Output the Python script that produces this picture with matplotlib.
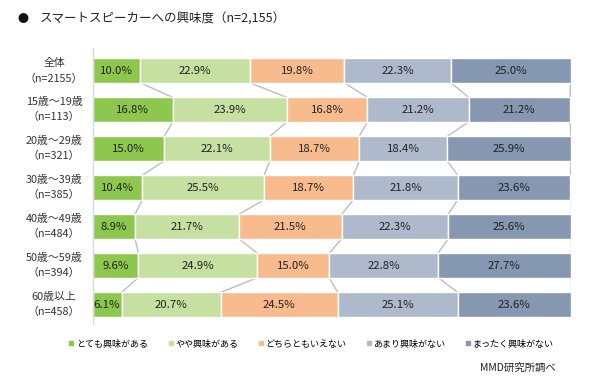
import matplotlib
matplotlib.use("Agg")
import matplotlib.pyplot as plt
from matplotlib.lines import Line2D
import numpy as np

plt.rcParams['font.family'] = ['Noto Sans CJK JP', 'DejaVu Sans']

title = "スマートスピーカーへの興味度（n=2,155）"
categories = ["全体\n（n=2155）", "15歳～19歳\n（n=113）", "20歳～29歳\n（n=321）",
              "30歳～39歳\n（n=385）", "40歳～49歳\n（n=484）", "50歳～59歳\n（n=394）",
              "60歳以上\n（n=458）"]
series_names = ["とても興味がある", "やや興味がある", "どちらともいえない", "あまり興味がない", "まったく興味がない"]
very = [10.0, 16.8, 15.0, 10.4, 8.9, 9.6, 6.1]
somewhat = [22.9, 23.9, 22.1, 25.5, 21.7, 24.9, 20.7]
neutral = [19.8, 16.8, 18.7, 18.7, 21.5, 15.0, 24.5]
notmuch = [22.3, 21.2, 18.4, 21.8, 22.3, 22.8, 25.1]
notatall = [25.0, 21.2, 25.9, 23.6, 25.6, 27.7, 23.6]
source = "MMD研究所調べ"

colors = ["#8DC74E", "#C6E0A2", "#F8BB8D", "#AEB9CB", "#8597B1"]

series = [very, somewhat, neutral, notmuch, notatall]
data = np.array(series)  # 5 x 7

fig = plt.figure(figsize=(5.9, 3.8), dpi=100)
ax = fig.add_axes([92.5/590, (380-324)/380, 478/590, 276/380])

n = len(categories)
y = np.arange(n)
h = 0.625
left = np.zeros(n)
for i, (vals, c) in enumerate(zip(series, colors)):
    vals = np.array(vals)
    ax.barh(y, vals, left=left, height=h, color=c, edgecolor="white", linewidth=1.0, zorder=2)
    for k in range(n):
        ax.text(left[k] + vals[k]/2, y[k], f"{vals[k]:.1f}%", ha="center", va="center",
                fontsize=8.2, color="#222222", zorder=3)
    left = left + vals

# series lines
cum = np.cumsum(data, axis=0)
for i in range(5):
    for k in range(n-1):
        ax.plot([cum[i, k], cum[i, k+1]], [y[k] + h/2, y[k+1] - h/2],
                color="#BDBDBD", linewidth=1.0, zorder=1)

ax.set_xlim(0, 100)
ax.set_ylim(6.5, -0.58)
ax.set_xticks([])
ax.set_yticks([])
for s in ["top", "right", "bottom"]:
    ax.spines[s].set_visible(False)
ax.spines["left"].set_color("#D9D9D9")
ax.spines["left"].set_linewidth(1.0)

for k, lab in enumerate(categories):
    ax.text(-38.5/4.78, y[k], lab, ha="center", va="center", fontsize=7.8,
            color="#333333", linespacing=1.65, transform=ax.transData)

fig.text(17/590, 1 - 19/380, "●", fontsize=8, ha="left", va="center", color="#111111")
fig.text(40/590, 1 - 19/380, title, fontsize=9.0, ha="left", va="center", color="#222222")

handles = [Line2D([0], [0], marker="s", linestyle="none", markersize=3.5,
                  markerfacecolor=c, markeredgecolor=c) for c in colors]
fig.legend(handles, series_names, loc="center", bbox_to_anchor=(311/590, 1 - 344/380),
           ncol=5, frameon=False, fontsize=6.5, handlelength=0.6, handletextpad=0.2,
           columnspacing=2.2)

fig.text(556/590, 1 - 368/380, source, fontsize=7.5, ha="right", va="center", color="#222222")

fig.savefig("out.png", dpi=100)
